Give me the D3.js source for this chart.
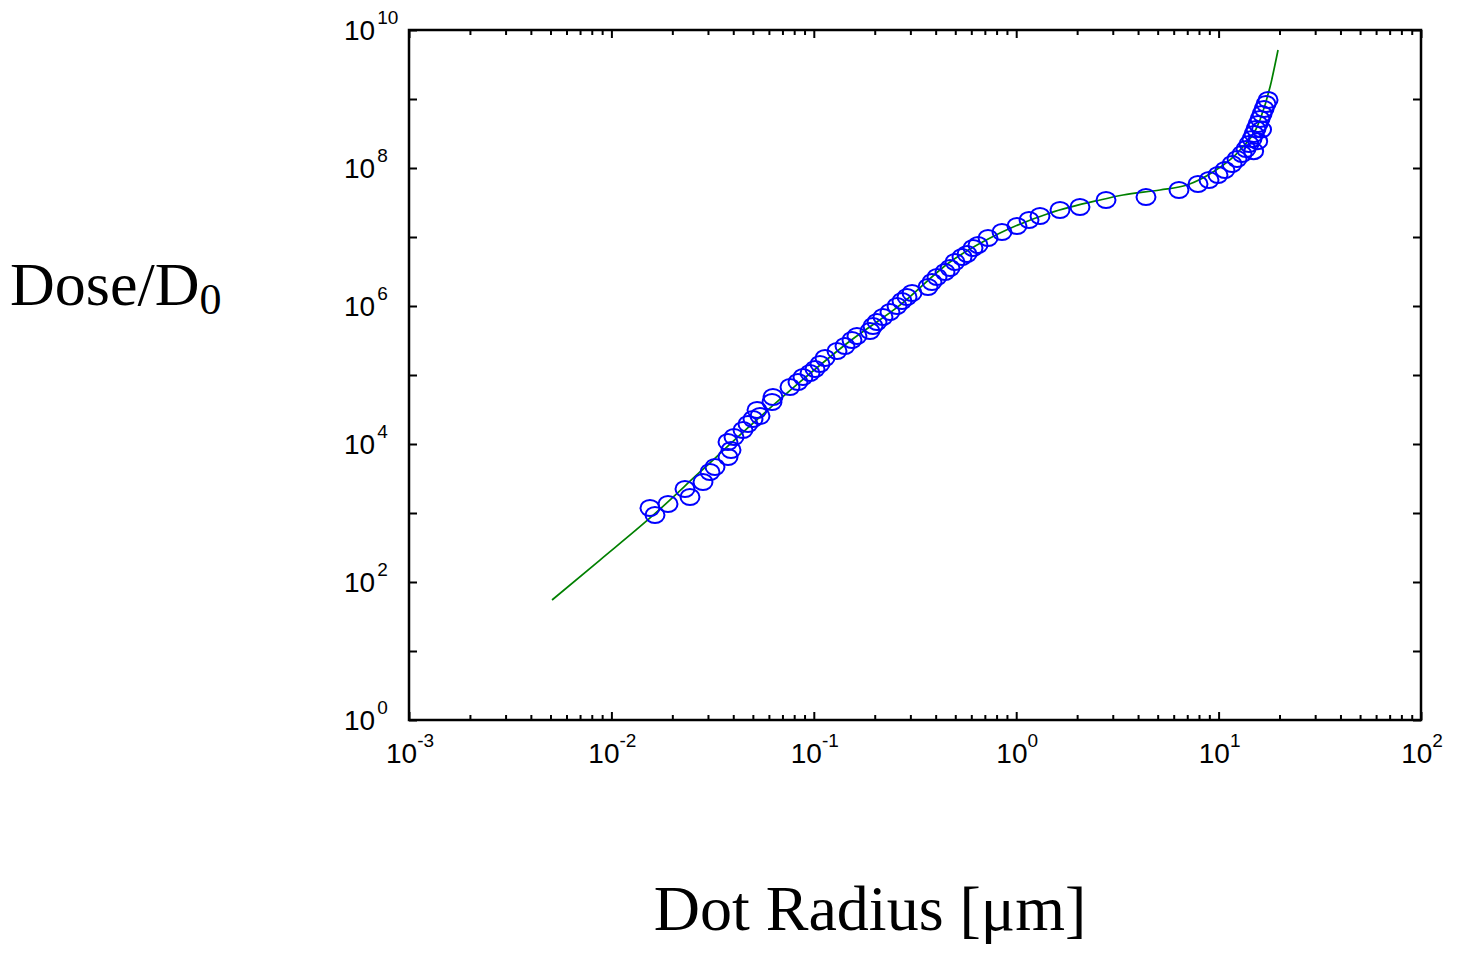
<!DOCTYPE html>
<html>
<head>
<meta charset="utf-8">
<script src="https://cdn.jsdelivr.net/npm/d3@7"></script>
<style>
  html, body { margin: 0; padding: 0; background: #fff; }
  svg { display: block; }
  .tick-label { font-family: "Liberation Sans", Arial, sans-serif; fill: #000; }
  .axis-title { font-family: "Liberation Serif", "Times New Roman", serif; fill: #000; }
</style>
</head>
<body>
<div id="root"></div>
<script>
// measured points (Dot Radius [um], Dose/D0)
const pointRadius = [
  0.01551, 0.01642, 0.01904, 0.02310, 0.02445, 0.02835, 0.03070, 0.03250,
  0.03768, 0.03899, 0.03768, 0.04034, 0.04469, 0.04730, 0.05007, 0.05241,
  0.05422, 0.06216, 0.06286, 0.07627, 0.08354, 0.08844, 0.09576, 0.1014,
  0.1073, 0.1136, 0.1302, 0.1426, 0.1544, 0.1634, 0.1895, 0.1961,
  0.2053, 0.2197, 0.2379, 0.2577, 0.2728, 0.2888, 0.3057, 0.3666,
  0.3837, 0.4062, 0.4448, 0.4709, 0.4984, 0.5399, 0.5715, 0.6117,
  0.6476, 0.7257, 0.8507, 1.009, 1.157, 1.311, 1.646, 2.066,
  2.778, 4.378, 6.372, 7.911, 8.966, 9.931, 10.75, 11.65,
  12.33, 13.05, 13.66, 14.13, 14.62, 14.96, 15.30, 15.66,
  16.02, 16.39, 16.77, 17.15, 17.55, 14.9, 15.6, 16.3
];
const pointDose = [
  1182, 935, 1350, 2227, 1706, 2813, 3929, 4642,
  6479, 8185, 10690, 12630, 15960, 19490, 23030, 31100,
  25450, 40620, 47990, 67010, 79170, 93540, 106900, 122200,
  144300, 176400, 222700, 263200, 321600, 367500, 434200, 513200,
  586300, 692600, 818500, 1.0e6, 1.182e6, 1.350e6, 1.543e6, 1.885e6,
  2.227e6, 2.632e6, 3.110e6, 3.554e6, 4.342e6, 5.131e6, 5.671e6, 6.926e6,
  7.656e6, 9.67e6, 1.182e7, 1.443e7, 1.764e7, 2.015e7, 2.462e7, 2.722e7,
  3.438e7, 3.80e7, 4.80e7, 5.863e7, 6.70e7, 7.917e7, 9.354e7, 1.143e8,
  1.350e8, 1.596e8, 1.885e8, 2.227e8, 2.632e8, 3.110e8, 3.675e8, 4.342e8,
  5.131e8, 6.063e8, 7.164e8, 8.465e8, 9.67e8, 1.75e8, 2.45e8, 3.6e8
];

// fitted curve
const fitRadius = [
  0.00509, 0.00878, 0.01552, 0.02740, 0.04839, 0.0855, 0.1510, 0.2666,
  0.4709, 0.832, 1.469, 2.594, 3.372, 5.134, 6.98, 9.38, 12.76, 16.01,
  17.95, 19.66
];
const fitDose = [
  54.8, 208, 847, 3930, 18240, 79300, 311000, 1.03e6,
  4.34e6, 1.14e7, 2.23e7, 3.44e7, 4.06e7, 4.80e7, 5.67e7, 8.75e7, 1.82e8, 4.96e8,
  1.49e9, 5.13e9
];

// axis ticks
const xTickValues = [1e-3, 1e-2, 1e-1, 1, 10, 100];
const xTickExps = ["-3", "-2", "-1", "0", "1", "2"];
const yTickValues = [1, 1e1, 1e2, 1e3, 1e4, 1e5, 1e6, 1e7, 1e8, 1e9, 1e10];
const yLabelValues = [1, 1e2, 1e4, 1e6, 1e8, 1e10];
const yLabelExps = ["0", "2", "4", "6", "8", "10"];

const W = 1463, H = 953;
const margin = { top: 30, right: 42, bottom: 233, left: 409 };
const width = W - margin.left - margin.right;
const height = H - margin.top - margin.bottom;

const svg = d3.select("#root").append("svg")
  .attr("width", W)
  .attr("height", H);

const g = svg.append("g")
  .attr("transform", `translate(${margin.left},${margin.top})`);

const x = d3.scaleLog().domain([1e-3, 1e2]).range([0, width]);
const y = d3.scaleLog().domain([1, 1e10]).range([height, 0]);

// minor x ticks: 2..9 in every decade
const xMinor = [];
xTickValues.slice(0, -1).forEach((d) => {
  for (let k = 2; k <= 9; k++) xMinor.push(d * k);
});

function styleAxis(sel) {
  sel.select(".domain").remove();
  sel.selectAll(".tick line").attr("stroke", "#000").attr("stroke-width", 2);
  sel.selectAll(".tick text").remove();
}

// ticks on all four sides, pointing inward
g.append("g").attr("transform", `translate(0,${height})`)
  .call(d3.axisBottom(x).tickValues(xTickValues).tickSize(-8).tickFormat(""))
  .call(styleAxis);
g.append("g").attr("transform", `translate(0,${height})`)
  .call(d3.axisBottom(x).tickValues(xMinor).tickSize(-5).tickFormat(""))
  .call(styleAxis);
g.append("g")
  .call(d3.axisTop(x).tickValues(xTickValues).tickSize(-8).tickFormat(""))
  .call(styleAxis);
g.append("g")
  .call(d3.axisTop(x).tickValues(xMinor).tickSize(-5).tickFormat(""))
  .call(styleAxis);
g.append("g")
  .call(d3.axisLeft(y).tickValues(yTickValues).tickSize(-8).tickFormat(""))
  .call(styleAxis);
g.append("g").attr("transform", `translate(${width},0)`)
  .call(d3.axisRight(y).tickValues(yTickValues).tickSize(-8).tickFormat(""))
  .call(styleAxis);

// frame
g.append("rect")
  .attr("width", width)
  .attr("height", height)
  .attr("fill", "none")
  .attr("stroke", "#000")
  .attr("stroke-width", 2.5);

// tick labels with superscripts
xTickValues.forEach((d, i) => {
  const t = g.append("text")
    .attr("class", "tick-label")
    .attr("x", x(d) + 1)
    .attr("y", height + 43)
    .attr("text-anchor", "middle")
    .style("font-size", "28px");
  t.append("tspan").text("10");
  t.append("tspan").attr("dy", -16).style("font-size", "19px").text(xTickExps[i]);
});

yLabelValues.forEach((d, i) => {
  const t = g.append("text")
    .attr("class", "tick-label")
    .attr("x", 344 - margin.left)
    .attr("y", y(d) + 10)
    .attr("text-anchor", "start")
    .style("font-size", "28px");
  t.append("tspan").text("10");
  t.append("tspan").attr("dx", 2).attr("dy", -16).style("font-size", "19px").text(yLabelExps[i]);
});

// fit line
const fitData = fitRadius.map((r, i) => [r, fitDose[i]]);
const line = d3.line()
  .x((d) => x(d[0]))
  .y((d) => y(d[1]))
  .curve(d3.curveMonotoneX);

g.append("path")
  .datum(fitData)
  .attr("fill", "none")
  .attr("stroke", "#008000")
  .attr("stroke-width", 1.7)
  .attr("d", line);

// measured points
const points = pointRadius.map((r, i) => [r, pointDose[i]]);
g.selectAll("ellipse")
  .data(points)
  .enter()
  .append("ellipse")
  .attr("cx", (d) => x(d[0]))
  .attr("cy", (d) => y(d[1]))
  .attr("rx", 9.5)
  .attr("ry", 8)
  .attr("fill", "none")
  .attr("stroke", "#0000ff")
  .attr("stroke-width", 2);

// axis titles
const yt = svg.append("text")
  .attr("class", "axis-title")
  .attr("x", 10)
  .attr("y", 305)
  .style("font-size", "62px");
yt.append("tspan").text("Dose/D");
yt.append("tspan").attr("dy", 9).style("font-size", "44px").text("0");

svg.append("text")
  .attr("class", "axis-title")
  .attr("x", 870)
  .attr("y", 930)
  .attr("text-anchor", "middle")
  .style("font-size", "64px")
  .text("Dot Radius [\u03bcm]");
</script>
</body>
</html>
